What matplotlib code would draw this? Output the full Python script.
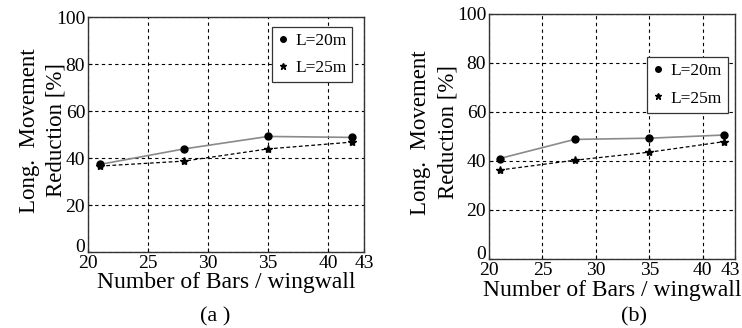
import matplotlib.pyplot as plt
import matplotlib.transforms as mtransforms
from matplotlib.lines import Line2D

plt.rcParams['font.family'] = ['Liberation Serif', 'DejaVu Serif']

# data
bars = [21, 28, 35, 42]
a_l20 = [37.3, 43.9, 49.2, 48.8]
a_l25 = [36.6, 38.7, 43.9, 46.8]
b_l20 = [41.0, 48.8, 49.3, 50.6]
b_l25 = [36.3, 40.3, 43.6, 47.9]
xticks = [20, 25, 30, 35, 40, 43]
yticks = [0, 20, 40, 60, 80, 100]
labels = ['L=20m', 'L=25m']

fig = plt.figure(figsize=(7.42, 3.28), dpi=100)
ax_a = fig.add_axes([0.1186, 0.2317, 0.372, 0.716])
ax_b = fig.add_axes([0.659, 0.2104, 0.3315, 0.747])


def nudge(lbl, dx, dy):
    lbl.set_transform(lbl.get_transform() +
                      mtransforms.ScaledTranslation(dx / 72, dy / 72, fig.dpi_scale_trans))


def draw(ax, y20, y25, leg_box, ypad, xpad):
    ax.plot(bars, y20, color='#8a8a8a', lw=1.2, ls='-', zorder=3)
    ax.plot(bars, y25, color='black', lw=0.9, ls=(0, (3, 2)), zorder=3)
    ax.plot(bars, y20, 'o', color='black', ms=5, zorder=4)
    ax.plot(bars, y25, '*', color='black', ms=6, zorder=4)
    ax.set_xlim(20, 43)
    ax.set_ylim(0, 100)
    ax.set_xticks(xticks)
    ax.set_yticks(yticks)
    ax.grid(True, color='black', ls=(0, (3, 3)), lw=0.8)
    ax.tick_params(direction='in', length=3, labelsize=14, pad=2)
    # lift the "0" so it sits beside the corner, above the "20"
    nudge(ax.get_yticklabels()[0], 0, 5)
    for s in ax.spines.values():
        s.set_linewidth(1.0)
        s.set_color('#333333')
    ax.set_xlabel('Number of Bars / wingwall', fontsize=17, labelpad=xpad)
    ylab = ax.set_ylabel('Long.  Movement\nReduction [%]', fontsize=16.5,
                         linespacing=1.4, labelpad=ypad)
    nudge(ylab, 0, 3)
    handles = [Line2D([], [], marker='o', color='black', ls='none', ms=4),
               Line2D([], [], marker='*', color='black', ls='none', ms=5)]
    leg = ax.legend(handles, labels, loc='upper left', bbox_to_anchor=leg_box,
                    fontsize=12.5, frameon=True, fancybox=False, framealpha=1,
                    edgecolor='#333333', handlelength=0.6, handletextpad=0.4,
                    borderpad=0.35, labelspacing=0.65, borderaxespad=0)
    leg.get_frame().set_linewidth(0.9)


draw(ax_a, a_l20, a_l25, (0.665, 0.96), -8, 0)
draw(ax_b, b_l20, b_l25, (0.642, 0.825), -1, 1)
# keep the last x label of (b) inside the picture
nudge(ax_b.get_xticklabels()[-1], -3, 0)

fig.text(0.29, 0.02, '(a )', fontsize=16, ha='center')
fig.text(0.855, 0.02, '(b)', fontsize=16, ha='center')

fig.savefig('out.png', dpi=100)
